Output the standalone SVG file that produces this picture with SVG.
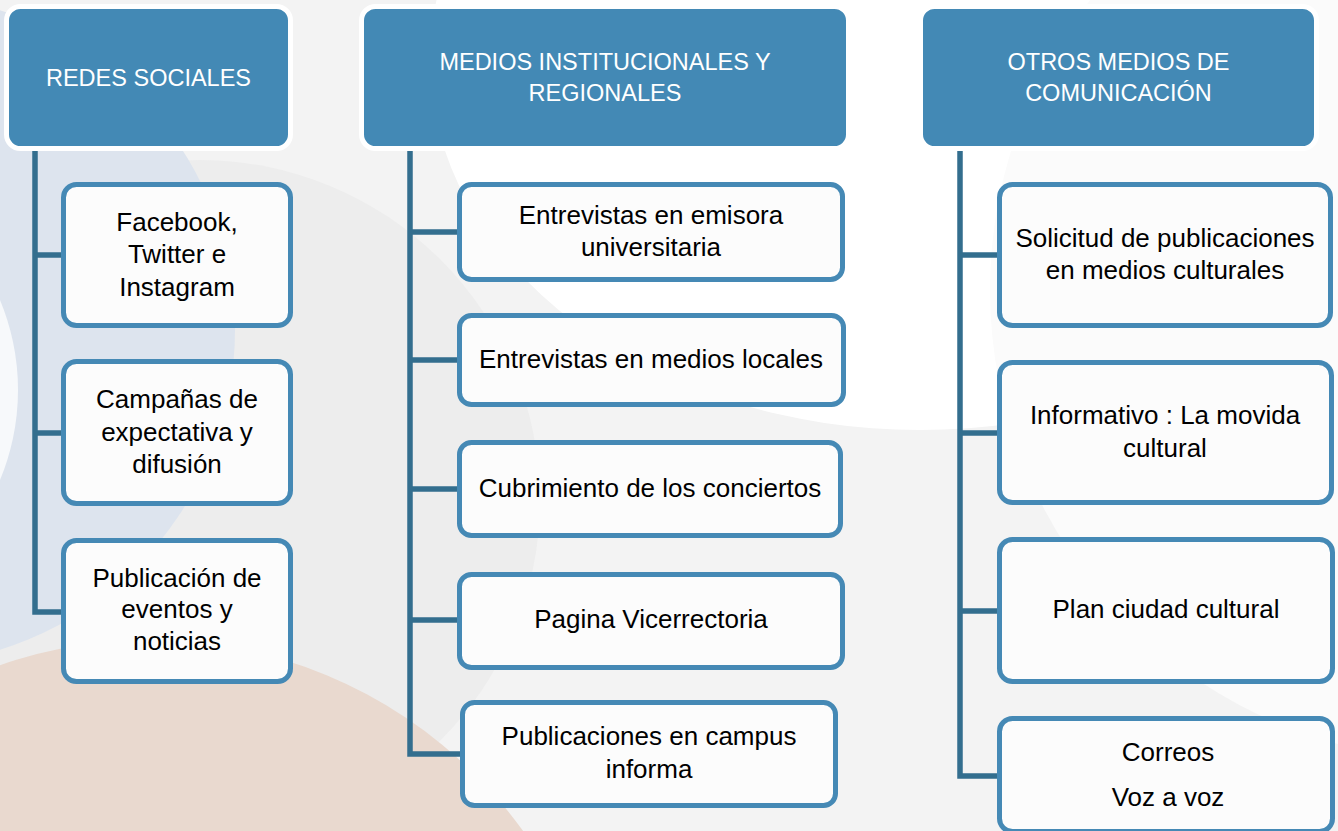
<svg xmlns="http://www.w3.org/2000/svg" width="1338" height="831" viewBox="0 0 1338 831">
<style>
.hdr rect{fill:#4389B5;stroke:#FFFFFF;stroke-width:5}
.hdr text{fill:#FFFFFF;font-family:"Liberation Sans",Arial,sans-serif;font-size:23.5px;text-anchor:middle}
.box rect{fill:#FCFCFC;stroke:#4589B5;stroke-width:5}
.box text{fill:#000000;font-family:"Liberation Sans",Arial,sans-serif;font-size:26px;text-anchor:middle}
.conn path{fill:none;stroke:#336E8E;stroke-width:5.5;stroke-linejoin:miter;stroke-linecap:butt}
</style>
<g id="background">
<rect x="0" y="0" width="1338" height="831" fill="#F3F3F3"/>
<ellipse cx="920" cy="60" rx="490" ry="370" fill="#FFFFFF"/>
<circle cx="1460" cy="290" r="470" fill="#FBFBFB"/>
<circle cx="200" cy="500" r="340" fill="#EDEDED"/>
<circle cx="-100" cy="330" r="335" fill="#DDE4EE"/>
<ellipse cx="-250" cy="390" rx="268" ry="250" fill="#F7F9FB"/>
<circle cx="150" cy="1100" r="460" fill="#E9D9CF"/>
</g>
<g class="conn" id="connectors">
<path d="M35 148 V612 H63 M35 255 H63 M35 433 H63"/>
<path d="M410 148 V754 H462 M410 232 H459 M410 360 H459 M410 489 H459 M410 620 H459"/>
<path d="M960 148 V776 H999 M960 255 H999 M960 433 H999 M960 611 H999"/>
</g>
<g class="hdr" id="h-redes">
<rect x="6.5" y="6.5" width="284" height="142" rx="14"/>
<text x="148.5" y="86">REDES SOCIALES</text>
</g>
<g class="hdr" id="h-medios">
<rect x="361.5" y="6.5" width="487" height="142" rx="14"/>
<text x="605" y="70">MEDIOS INSTITUCIONALES Y</text>
<text x="605" y="101">REGIONALES</text>
</g>
<g class="hdr" id="h-otros">
<rect x="920.5" y="6.5" width="396" height="142" rx="14"/>
<text x="1118.5" y="70">OTROS MEDIOS DE</text>
<text x="1118.5" y="101">COMUNICACIÓN</text>
</g>
<g class="box" id="n-facebook">
<rect x="63.5" y="184.5" width="227" height="141" rx="13"/>
<text x="177" y="231">Facebook,</text>
<text x="177" y="263">Twitter e</text>
<text x="177" y="296">Instagram</text>
</g>
<g class="box" id="n-campanas">
<rect x="63.5" y="361.5" width="227" height="142" rx="13"/>
<text x="177" y="408">Campañas de</text>
<text x="177" y="441">expectativa y</text>
<text x="177" y="473">difusión</text>
</g>
<g class="box" id="n-publicacion">
<rect x="63.5" y="540.5" width="227" height="141" rx="13"/>
<text x="177" y="587">Publicación de</text>
<text x="177" y="618">eventos y</text>
<text x="177" y="650">noticias</text>
</g>
<g class="box" id="n-emisora">
<rect x="459.5" y="184.5" width="383" height="95" rx="12"/>
<text x="651" y="224">Entrevistas en emisora</text>
<text x="651" y="256">universitaria</text>
</g>
<g class="box" id="n-locales">
<rect x="459.5" y="315.5" width="384" height="89" rx="12"/>
<text x="651" y="368">Entrevistas en medios locales</text>
</g>
<g class="box" id="n-cubrimiento">
<rect x="459.5" y="442.5" width="381" height="93" rx="12"/>
<text x="650" y="497">Cubrimiento de los conciertos</text>
</g>
<g class="box" id="n-pagina">
<rect x="459.5" y="574.5" width="383" height="93" rx="12"/>
<text x="651" y="628">Pagina Vicerrectoria</text>
</g>
<g class="box" id="n-campus">
<rect x="462.5" y="702.5" width="373" height="103" rx="12"/>
<text x="649" y="745">Publicaciones en campus</text>
<text x="649" y="778">informa</text>
</g>
<g class="box" id="n-solicitud">
<rect x="999.5" y="184.5" width="331" height="141" rx="13"/>
<text x="1165" y="247">Solicitud de publicaciones</text>
<text x="1165" y="279">en medios culturales</text>
</g>
<g class="box" id="n-informativo">
<rect x="999.5" y="362.5" width="332" height="140" rx="13"/>
<text x="1165" y="424">Informativo : La movida</text>
<text x="1165" y="457">cultural</text>
</g>
<g class="box" id="n-plan">
<rect x="999.5" y="539.5" width="333" height="142" rx="13"/>
<text x="1166" y="618">Plan ciudad cultural</text>
</g>
<g class="box" id="n-correos">
<rect x="999.5" y="718.5" width="333" height="113" rx="13"/>
<text x="1168" y="761">Correos</text>
<text x="1168" y="806">Voz a voz</text>
</g>
</svg>
